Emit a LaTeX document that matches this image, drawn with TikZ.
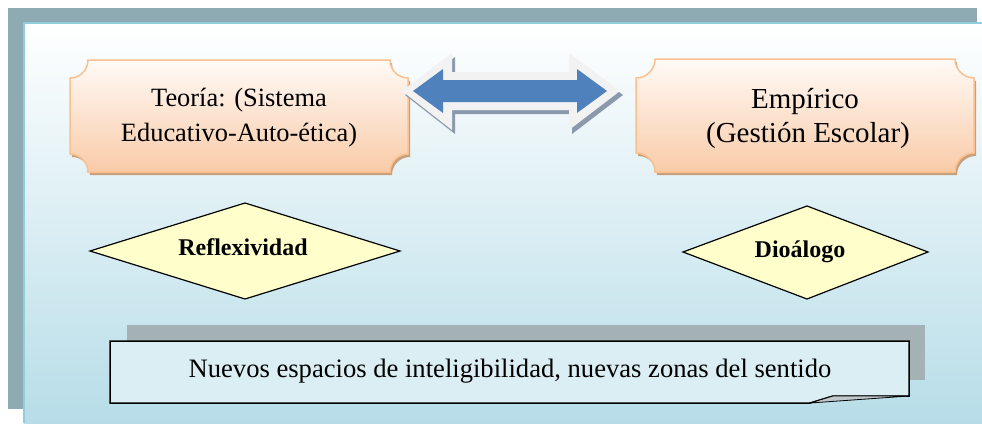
\documentclass[tikz,border=0pt]{standalone}
\usepackage{fontspec}
\setmainfont{Liberation Serif}
\definecolor{frameGray}{RGB}{142,170,179}
\definecolor{panelBot}{RGB}{183,221,232}
\definecolor{panelLine}{RGB}{146,205,220}
\definecolor{peachTop}{RGB}{255,250,246}
\definecolor{peachBot}{RGB}{249,203,168}
\definecolor{peachLine}{RGB}{250,192,144}
\definecolor{peachShadow}{RGB}{200,160,126}
\definecolor{diaFill}{RGB}{255,255,204}
\definecolor{banFill}{RGB}{218,238,243}
\definecolor{banShadow}{RGB}{164,178,182}
\definecolor{arrBlue}{RGB}{79,129,189}
\definecolor{arrLight}{RGB}{242,242,242}
\definecolor{arrShadow}{RGB}{138,154,172}
\def\cbpath#1#2#3#4#5{(#1,#2+#5) .. controls (#1+0.552*#5,#2+#5) and (#1+#5,#2+0.552*#5) .. (#1+#5,#2) -- (#3-#5,#2) .. controls (#3-#5,#2+0.552*#5) and (#3-0.552*#5,#2+#5) .. (#3,#2+#5) -- (#3,#4-#5) .. controls (#3-0.552*#5,#4-#5) and (#3-#5,#4-0.552*#5) .. (#3-#5,#4) -- (#1+#5,#4) .. controls (#1+#5,#4-0.552*#5) and (#1+0.552*#5,#4-#5) .. (#1,#4-#5) -- cycle}
\def\arrouter{(402,91) -- (452,53) -- (452,72) -- (569,72) -- (569,53) -- (620,91) -- (569,130) -- (569,110) -- (452,110) -- (452,130) -- cycle}
\tikzset{
  boxshade/.style={top color=peachTop, bottom color=peachBot, draw=peachLine, line width=1.5pt},
  boxshadow/.style={fill=peachShadow},
  dia/.style={fill=diaFill, draw=black, line width=1.2pt, line join=miter},
  lt/.style={inner sep=0pt, font=\fontsize{26.4}{32}\selectfont},
  rt/.style={inner sep=0pt, font=\fontsize{29}{34}\selectfont},
  dt/.style={inner sep=0pt, font=\fontsize{24}{28}\selectfont\bfseries},
  bt/.style={inner sep=0pt, font=\fontsize{26.6}{32}\selectfont},
}
\begin{document}
\begin{tikzpicture}[x=1pt,y=-1pt]
\useasboundingbox (0,0) rectangle (982,423);
% frame
\fill[frameGray] (8,8) rectangle (977,409);
\shade[top color=white, bottom color=panelBot] (24,23) rectangle (982,423);
\draw[panelLine, line width=2pt] (24,423) -- (24,23) -- (982,23);
% boxes
\fill[boxshadow, shift={(2,3)}] \cbpath{70}{60}{408}{172}{18};
\shadedraw[boxshade] \cbpath{70}{60}{408}{172}{18};
\fill[boxshadow, shift={(2,3)}] \cbpath{636}{59}{974}{172}{19};
\shadedraw[boxshade] \cbpath{636}{59}{974}{172}{19};
\node[lt, anchor=base] (teo1) at (239,106) {Teoría: (Sistema};
\node[lt, anchor=base] (teo2) at (239,141) {Educativo-Auto-ética)};
\node[rt, anchor=base] (emp1) at (805,108) {Empírico};
\node[rt, anchor=base] (emp2) at (808,142) {(Gestión Escolar)};
% double arrow
\fill[arrShadow, shift={(3,4)}] \arrouter;
\fill[arrLight] \arrouter;
\fill[arrBlue] (413,91) -- (443,69) -- (443,80) -- (577,80) -- (577,69) -- (607,91) -- (577,113) -- (577,102) -- (443,102) -- (443,113) -- cycle;
% diamonds
\filldraw[dia] (90,251) -- (245,203) -- (400,251) -- (245,299) -- cycle;
\node[dt, anchor=base] (refl) at (243,255) {Reflexividad};
\filldraw[dia] (683,252) -- (807,206) -- (928,252) -- (807,299) -- cycle;
\node[dt, anchor=base] (dial) at (800,257) {Dioálogo};
% banner
\fill[banShadow] (127,325) rectangle (925,380);
\filldraw[fill=banFill, line width=1.5pt, line join=miter] (110,341) -- (909,341) -- (909,396) -- (833,396) -- (810,403) -- (110,403) -- cycle;
\filldraw[fill=banShadow!70, line width=0.8pt] (810,403) -- (909,396) -- (833,396) -- cycle;
\node[bt, anchor=base] (nuevos) at (510,377) {Nuevos espacios de inteligibilidad, nuevas zonas del sentido};
\end{tikzpicture}
\end{document}
